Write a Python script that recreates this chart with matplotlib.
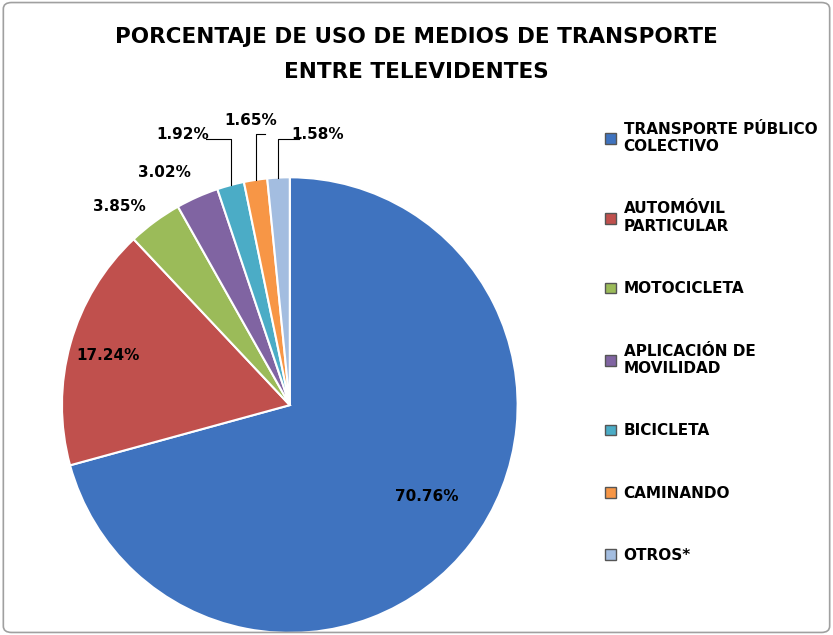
import numpy as np
import matplotlib.pyplot as plt
from matplotlib.patches import FancyBboxPatch, Patch

categories = ["TRANSPORTE PÚBLICO\nCOLECTIVO", "AUTOMÓVIL\nPARTICULAR", "MOTOCICLETA",
              "APLICACIÓN DE\nMOVILIDAD", "BICICLETA", "CAMINANDO", "OTROS*"]
values = [70.76, 17.24, 3.85, 3.02, 1.92, 1.65, 1.58]
colors = ["#3F73BF", "#C0504D", "#9BBB59", "#8064A2", "#4BACC6", "#F79646", "#A3BDE0"]

fig = plt.figure(figsize=(8.33, 6.35), dpi=100)
fig.patches.append(FancyBboxPatch((0.004, 0.004), 0.992, 0.992, boxstyle="round,pad=0,rounding_size=0.01",
                                  transform=fig.transFigure, fill=False, ec="#A0A0A0", lw=1.2))

fig.text(0.5, 0.942, "PORCENTAJE DE USO DE MEDIOS DE TRANSPORTE", ha="center", va="center",
         fontsize=15.5, fontweight="bold")
fig.text(0.5, 0.887, "ENTRE TELEVIDENTES", ha="center", va="center", fontsize=15.5, fontweight="bold")

ax = fig.add_axes([0.0744, 0.003, 0.547, 0.718])
wedges, _ = ax.pie(values, colors=colors, startangle=90, counterclock=False,
                   wedgeprops=dict(edgecolor="white", linewidth=1.5))
ax.set_xlim(-1, 1)
ax.set_ylim(-1, 1)
ax.set_aspect("equal")

labels = [f"{v:.2f}%" for v in values]
pos = [(0.60, -0.40), (-0.80, 0.22), (-0.75, 0.87), (-0.55, 1.02), (-0.47, 1.19), (-0.17, 1.25), (0.12, 1.19)]
for lab, (x, y) in zip(labels, pos):
    ax.text(x, y, lab, ha="center", va="center", fontsize=11, fontweight="bold", clip_on=False)

# leader lines for the small slices
for i in [4, 5, 6]:
    w = wedges[i]
    th = np.deg2rad((w.theta1 + w.theta2) / 2)
    ex, ey = np.cos(th), np.sin(th)
    x, y = pos[i]
    if i == 4:
        ax.plot([ex, ex, x + 0.1], [ey, y - 0.02, y - 0.02], color="black", lw=0.8, clip_on=False)
    elif i == 5:
        ax.plot([ex, ex, x + 0.06], [ey, y - 0.06, y - 0.06], color="black", lw=0.8, clip_on=False)
    else:
        ax.plot([ex, ex, x - 0.08], [ey, y - 0.02, y - 0.02], color="black", lw=0.8, clip_on=False)

handles = [Patch(facecolor=c, edgecolor="#555555") for c in colors]
fig.legend(handles, categories, loc="upper left", bbox_to_anchor=(0.71, 0.83), frameon=False,
           prop=dict(size=11, weight="bold"), labelspacing=3.1, handlelength=0.7, handleheight=0.7,
           handletextpad=0.5)

fig.savefig("out.png", dpi=100)
